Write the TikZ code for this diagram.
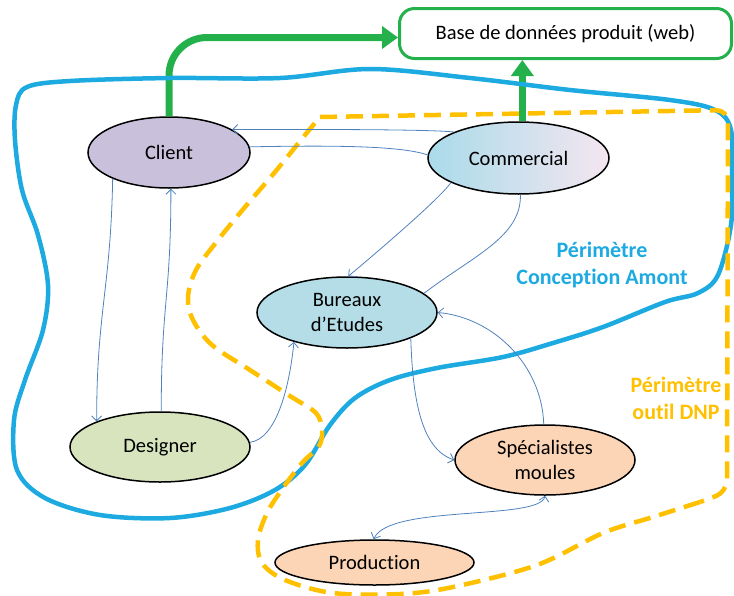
\documentclass[tikz,border=0pt]{standalone}
\usepackage{fontspec}
\setmainfont{Carlito}[Ligatures=NoCommon]
\usetikzlibrary{shapes.geometric,arrows.meta}
\definecolor{gr}{RGB}{36,177,76}
\definecolor{perblue}{RGB}{28,170,225}
\definecolor{perorange}{RGB}{255,192,0}
\definecolor{connblue}{RGB}{79,129,189}
\definecolor{clientfill}{RGB}{201,192,219}
\definecolor{bureauxfill}{RGB}{180,221,232}
\definecolor{designerfill}{RGB}{215,228,189}
\definecolor{peachfill}{RGB}{251,213,181}
\definecolor{commL}{RGB}{170,219,234}
\definecolor{commM}{RGB}{135,183,227}
\definecolor{commR}{RGB}{244,230,240}
\newcommand\nodefnt{\fontsize{20.5}{25}\selectfont}
\newcommand\perfnt{\fontsize{22}{27}\selectfont\bfseries}
\tikzset{
  ell/.style={ellipse, draw=black, line width=1.5pt, inner sep=0pt, font=\nodefnt, align=center},
  conn/.style={draw=connblue, line width=0.8pt},
  barb/.tip={Straight Barb[length=5pt,width=10pt]},
  arr/.style={-barb},
  greenarrow/.style={draw=gr, line width=7pt, -{Triangle[length=16pt,width=22pt]}},
  blueper/.style={draw=perblue, line width=4.5pt},
  orangeper/.style={draw=perorange, line width=4.5pt, dash pattern=on 17pt off 9pt},
}
\begin{document}
\begin{tikzpicture}[x=1pt,y=-1pt]
\useasboundingbox (0,0) rectangle (734,595);

% nodes
\node[draw=gr, line width=3pt, rounded corners=15pt, minimum width=332pt, minimum height=50pt, font=\nodefnt] (db) at (565.5,33.5) {Base de données produit (web)};
\node[ell, fill=clientfill, minimum width=162pt, minimum height=71pt] (client) at (169,152.5) {Client};
\node[ell, left color=commL, middle color=commM, right color=commR, minimum width=181pt, minimum height=72pt] (comm) at (518.5,158) {Commercial};
\node[ell, fill=bureauxfill, minimum width=180pt, minimum height=71pt] (bureaux) at (347,312.5) {Bureaux\\d’Etudes};
\node[ell, fill=designerfill, minimum width=180pt, minimum height=70pt] (designer) at (160,447) {Designer};
\node[ell, fill=peachfill, minimum width=180pt, minimum height=70pt] (spec) at (545,460) {Spécialistes\\moules};
\node[ell, fill=peachfill, minimum width=199pt, minimum height=45pt] (prod) at (374.5,562.5) {Production};

% green arrows
\draw[greenarrow, rounded corners=38pt] (client.north) |- ([yshift=-4pt]db.west);
\draw[greenarrow] (comm.84) -- (comm.84 |- db.south);

% perimeter conception amont
\draw[blueper] plot[smooth cycle, tension=0.55] coordinates {
 (27,87) (70,81) (170,78) (280,78) (370,69) (470,78) (570,90) (670,100)
 (715,110) (731,130) (732,180) (731,225) (718,275) (698,293) (665,302) (603,327)
 (553,343) (503,357) (437,368) (390,380) (355,398) (330,425) (305,465) (275,490)
 (230,508) (170,518) (100,515) (45,498) (17,470) (14,420) (25,380) (43,330)
 (48,285) (38,235) (22,190) (15,140) (16,105)};

% perimeter outil DNP
\draw[orangeper, rounded corners=12pt] (320,117) -- (728,110) -- (727,492) -- (700,502);
\draw[orangeper] plot[smooth, tension=0.55] coordinates {
 (700,502) (653,517) (603,533) (537,565) (453,587) (400,594) (333,593) (285,580)
 (262,563) (258,540) (267,513) (283,488) (302,463) (319,446) (322,430) (316,413)
 (290,396) (250,370) (212,345) (193,320) (188,297) (196,270) (218,240) (245,207)
 (275,172) (305,135) (320,117)};

% labels
\node[text=perblue, font=\perfnt, align=center] (lblA) at (602,265) {Périmètre\\Conception Amont};
\node[text=perorange, font=\perfnt, align=center] (lblB) at (676,398) {Périmètre\\outil DNP};

% connectors
\draw[conn,arr] (comm.158) .. controls +(-30,-3) and +(60,0) .. (client.20);
\draw[conn] (client.4) .. controls +(100,-2) and +(-25,-8) .. (comm.178);
\draw[conn,arr] (comm.200) .. controls +(-10,15) and +(30,-25) .. (bureaux.88);
\draw[conn] (bureaux.14) .. controls +(50,-38) and +(1,42) .. (comm.273);
\draw[conn,arr] (client.205) .. controls +(-2,110) and +(0,-110) .. (designer.158);
\draw[conn,arr] (designer.88) .. controls +(0,-110) and +(0,110) .. (client.273);
\draw[conn,arr] (designer.3) .. controls +(25,-3) and +(-5,50) .. (bureaux.209);
\draw[conn,arr] (bureaux.-22) .. controls +(2,70) and +(-30,-10) .. (spec.180);
\draw[conn,arr] (spec.92) .. controls +(-2,-60) and +(55,5) .. (bureaux.0);
\draw[conn,barb-barb] (spec.270) .. controls +(-5,25) and +(15,-35) .. (prod.92);
\end{tikzpicture}
\end{document}
